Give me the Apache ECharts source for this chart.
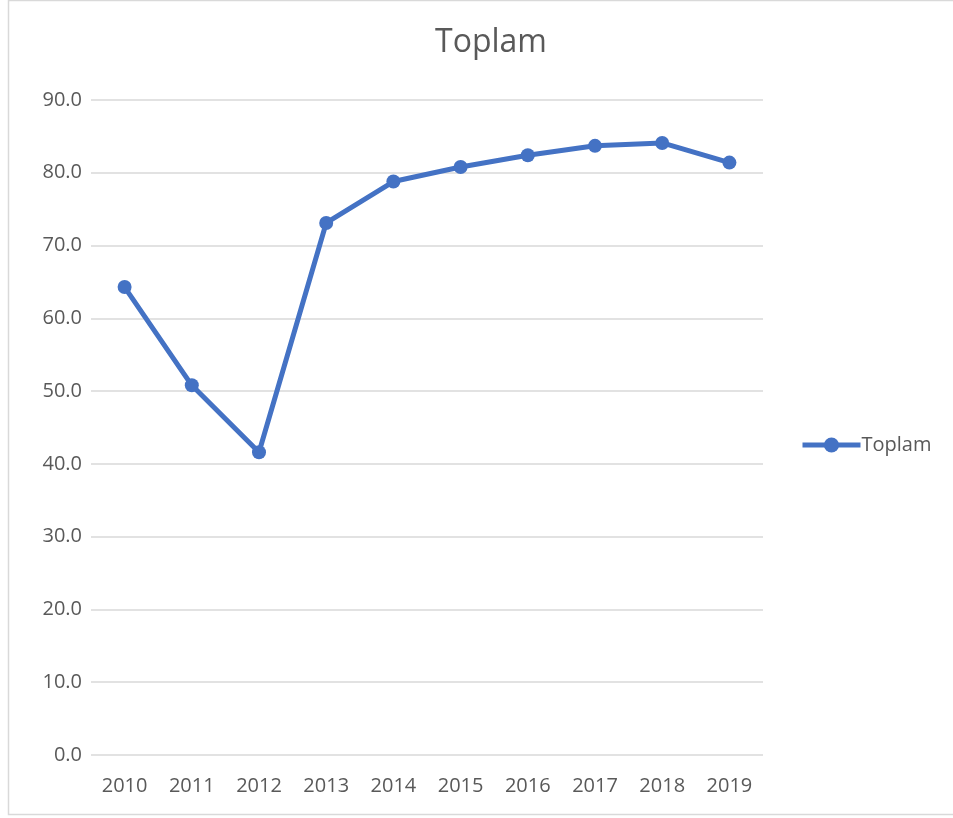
<!DOCTYPE html>
<html>
<head>
<meta charset="utf-8">
<script src="https://cdn.jsdelivr.net/npm/echarts@6/dist/echarts.min.js"></script>
<style>html,body{margin:0;padding:0;background:#fff}#c{width:953px;height:818px}</style>
</head>
<body>
<div id="c"></div>
<script>
var years = ['2010','2011','2012','2013','2014','2015','2016','2017','2018','2019'];
var toplam = [64.3, 50.8, 41.6, 73.1, 78.8, 80.8, 82.4, 83.7, 84.1, 81.4];
var seriesName = 'Toplam';
var titleText = 'Toplam';

var chart = echarts.init(document.getElementById('c'));
chart.setOption({
  animation: false,
  backgroundColor: '#fff',
  textStyle: {fontFamily: 'Open Sans'},
  graphic: [{
    type: 'rect', shape: {x: 8.5, y: 0.5, width: 960, height: 814},
    style: {fill: 'none', stroke: '#d9d9d9', lineWidth: 1.5}, silent: true, z: -1
  }],
  title: {
    text: titleText, left: 486, top: 22, textAlign: 'center',
    textStyle: {fontFamily: 'Open Sans', fontSize: 32, fontWeight: 'normal', color: '#595959'}
  },
  legend: {
    data: [seriesName], left: 795, top: 430, padding: 5, itemWidth: 58, itemHeight: 19, itemGap: 5,
    textStyle: {fontFamily: 'Open Sans', fontSize: 20, color: '#595959', padding: [0, 0, 0, -4]},
    itemStyle: {color: '#4472C4'},
    lineStyle: {width: 5, color: '#4472C4'}
  },
  grid: {left: 91, right: 190, top: 100, bottom: 63, containLabel: false},
  xAxis: {
    type: 'category', data: years, boundaryGap: true,
    axisLine: {show: false}, axisTick: {show: false},
    axisLabel: {fontFamily: 'Open Sans', fontSize: 20, color: '#595959', margin: 21}
  },
  yAxis: {
    type: 'value', min: 0, max: 90, interval: 10,
    axisLine: {show: false}, axisTick: {show: false},
    splitLine: {lineStyle: {color: '#d9d9d9', width: 1.5}},
    axisLabel: {fontFamily: 'Open Sans', fontSize: 20, color: '#595959', margin: 9,
      formatter: function (v) { return v.toFixed(1); }}
  },
  series: [{
    name: seriesName, type: 'line', data: toplam,
    symbol: 'circle', symbolSize: 14,
    lineStyle: {color: '#4472C4', width: 5},
    itemStyle: {color: '#4472C4'}
  }]
});
</script>
</body>
</html>
